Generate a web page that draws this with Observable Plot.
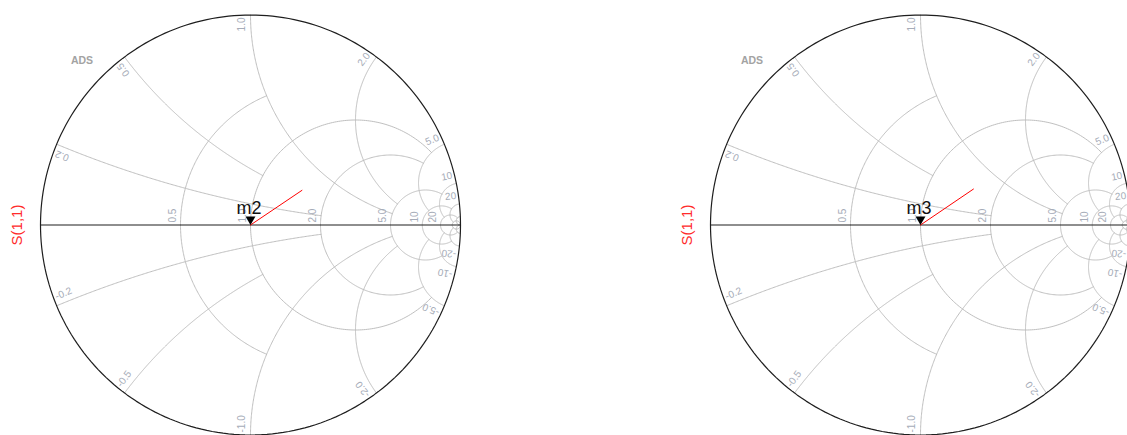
<!DOCTYPE html>
<html>
<head>
<meta charset="utf-8">
<script src="https://cdn.jsdelivr.net/npm/d3@7"></script>
<script src="https://cdn.jsdelivr.net/npm/@observablehq/plot@0.6"></script>
<style>
  html, body { margin: 0; padding: 0; background: #fff; overflow: hidden; }
  #wrap { position: relative; width: 1127px; height: 435px; overflow: hidden; }
  .panel { position: absolute; top: 0; }
  .panel svg { display: block; }
</style>
</head>
<body>
<div id="wrap"></div>
<script>
// Smith chart grid: resistance circles and reactance arcs, each stopping at a limit
const resistances = [0.5, 1, 2, 5, 10, 20, 50];
const resistanceStops = [1, 5, 5, 10, 20, 50, Infinity];   // |x| where each circle ends
const reactances = [0.2, 0.5, 1, 2, 5, 10, 20, 50];
const reactanceStops = [2, 1, 5, 5, 10, 20, 50, Infinity]; // r where each arc ends
const resistanceLabels = ["0.5", "1.0", "2.0", "5.0", "10", "20"];
const reactanceLabels = ["0.2", "0.5", "1.0", "2.0", "5.0", "10", "20"];

// S(1,1) traces (real, imaginary parts of the reflection coefficient) and markers
const traceName = "S(1,1)";
const markerNames = ["m2", "m3"];
const traceRe = [[0, 0.245], [0, 0.252]];
const traceIm = [[0, 0.165], [0, 0.171]];
const markerIndex = [0, 0];
const stamp = "ADS";

const PX = 210;     // pixels per unit of |Γ|
const CY = 224.5;   // vertical centre of both charts
const panels = [{left: 0, width: 563, cx: 250}, {left: 563, width: 564, cx: 357}];

const font = "'Liberation Sans', Arial, sans-serif";
const gridColor = "#bfbfbf";
const labelColor = "#a6acb8";

// normalized impedance r + jx  ->  reflection coefficient Γ
function gamma(r, x) {
  if (!isFinite(r) || !isFinite(x)) return [1, 0];
  const d = (r + 1) ** 2 + x * x;
  return [(r * r - 1 + x * x) / d, (2 * x) / d];
}

function resistanceCircle(r, xMax, id) {
  const c = r / (1 + r), rho = 1 / (1 + r);
  let p0 = 0;
  if (isFinite(xMax)) {
    const [gx, gy] = gamma(r, xMax);
    p0 = Math.atan2(gy, gx - c);
  }
  const n = 240, pts = [];
  for (let k = 0; k <= n; k++) {
    const p = p0 + (2 * Math.PI - 2 * p0) * k / n;
    pts.push({gx: c + rho * Math.cos(p), gy: rho * Math.sin(p), id});
  }
  return pts;
}

function reactanceArc(x, rMax, id) {
  const ccx = 1, ccy = 1 / x, rad = Math.abs(1 / x);
  const [ax, ay] = gamma(0, x), [bx, by] = gamma(rMax, x);
  const a0 = Math.atan2(ay - ccy, ax - ccx);
  let d = Math.atan2(by - ccy, bx - ccx) - a0;
  while (d > Math.PI) d -= 2 * Math.PI;
  while (d <= -Math.PI) d += 2 * Math.PI;
  const n = 200, pts = [];
  for (let k = 0; k <= n; k++) {
    const a = a0 + d * k / n;
    pts.push({gx: ccx + rad * Math.cos(a), gy: ccy + rad * Math.sin(a), id});
  }
  return pts;
}

const grid = [
  ...resistances.flatMap((r, i) => resistanceCircle(r, resistanceStops[i], "r" + i)),
  ...reactances.flatMap((x, i) => reactanceArc(x, reactanceStops[i], "xp" + i)),
  ...reactances.flatMap((x, i) => reactanceArc(-x, reactanceStops[i], "xn" + i))
];
const rim = resistanceCircle(0, Infinity, "rim");
const realAxis = [{gx: -1, gy: 0}, {gx: 1, gy: 0}];

const axisLabels = resistanceLabels.map((t, i) => {
  const r = resistances[i];
  return {gx: (r - 1) / (r + 1), gy: 0, text: t};
});

// labels on the rim, set along the arc where it meets the outer circle
function rimLabel(x, text) {
  const [gx, gy] = gamma(0, x);
  const th = Math.atan2(gy, gx);
  const upper = x > 0;
  const ux = upper ? -Math.sin(th) : Math.sin(th);
  const uy = upper ? Math.cos(th) : -Math.cos(th);
  const inset = 1 - 2.5 / PX, off = 5.5 / PX;
  const deg = th * 180 / Math.PI;
  return {
    gx: inset * Math.cos(th) + off * ux,
    gy: inset * Math.sin(th) + off * uy,
    rot: upper ? -deg : 180 - deg,
    text
  };
}
const rimUpper = reactanceLabels.map((t, i) => rimLabel(reactances[i], t));
const rimLower = reactanceLabels.map((t, i) => rimLabel(-reactances[i], "-" + t));

// marker glyph: downward triangle with its tip on the point
const tipDown = {
  draw(ctx, size) {
    const s = Math.sqrt(size), h = s * 0.86;
    ctx.moveTo(0, 0);
    ctx.lineTo(-s / 2, -h);
    ctx.lineTo(s / 2, -h);
    ctx.closePath();
  }
};

const wrap = document.getElementById("wrap");

panels.forEach((pane, k) => {
  const trace = traceRe[k].map((re, j) => ({gx: re, gy: traceIm[k][j]}));
  const marker = [{...trace[markerIndex[k]], name: markerNames[k]}];

  const chart = Plot.plot({
    width: pane.width,
    height: 435,
    margin: 0,
    style: {background: "transparent", fontFamily: font, overflow: "hidden"},
    x: {domain: [-1, 1], range: [pane.cx - PX, pane.cx + PX], axis: null},
    y: {domain: [-1, 1], range: [CY + PX, CY - PX], axis: null},
    marks: [
      Plot.line(grid, {x: "gx", y: "gy", z: "id", stroke: gridColor, strokeWidth: 1}),
      Plot.line(realAxis, {x: "gx", y: "gy", stroke: "#1e1e1e", strokeWidth: 1.1}),
      Plot.line(rim, {x: "gx", y: "gy", stroke: "#1e1e1e", strokeWidth: 1.2}),
      Plot.text(axisLabels, {
        x: "gx", y: "gy", text: "text", rotate: -90, textAnchor: "start", lineAnchor: "bottom",
        dx: -4.5, dy: -2.5, fill: labelColor, fontSize: 10, fontFamily: font
      }),
      Plot.text(rimUpper, {
        x: "gx", y: "gy", text: "text", rotate: "rot", textAnchor: "end", lineAnchor: "bottom",
        fill: labelColor, fontSize: 10, fontFamily: font
      }),
      Plot.text(rimLower, {
        x: "gx", y: "gy", text: "text", rotate: "rot", textAnchor: "start", lineAnchor: "bottom",
        fill: labelColor, fontSize: 10, fontFamily: font
      }),
      Plot.text([stamp], {
        frameAnchor: "top-left", text: d => d, dx: pane.cx - PX + 41.5, dy: CY - PX + 45.5,
        textAnchor: "middle", lineAnchor: "middle", fill: "#a3a3a3", fontWeight: "bold",
        fontSize: 10.5, fontFamily: font
      }),
      Plot.text([{gx: -1, gy: 0, text: traceName}], {
        x: "gx", y: "gy", text: "text", rotate: -90, textAnchor: "middle", lineAnchor: "middle",
        dx: -23, fill: "#ff2b2b", fontSize: 15, fontFamily: font
      }),
      Plot.line(trace, {x: "gx", y: "gy", stroke: "#ff0000", strokeWidth: 1}),
      Plot.dot(marker, {x: "gx", y: "gy", symbol: tipDown, r: 5.6, fill: "#000", stroke: "none"}),
      Plot.text(marker, {
        x: "gx", y: "gy", text: "name", textAnchor: "middle", lineAnchor: "bottom",
        dx: -1.5, dy: -11, fill: "#111", fontSize: 18, fontFamily: font
      })
    ]
  });

  const div = document.createElement("div");
  div.className = "panel";
  div.style.left = pane.left + "px";
  div.style.width = pane.width + "px";
  div.appendChild(chart);
  wrap.appendChild(div);
});
</script>
</body>
</html>
